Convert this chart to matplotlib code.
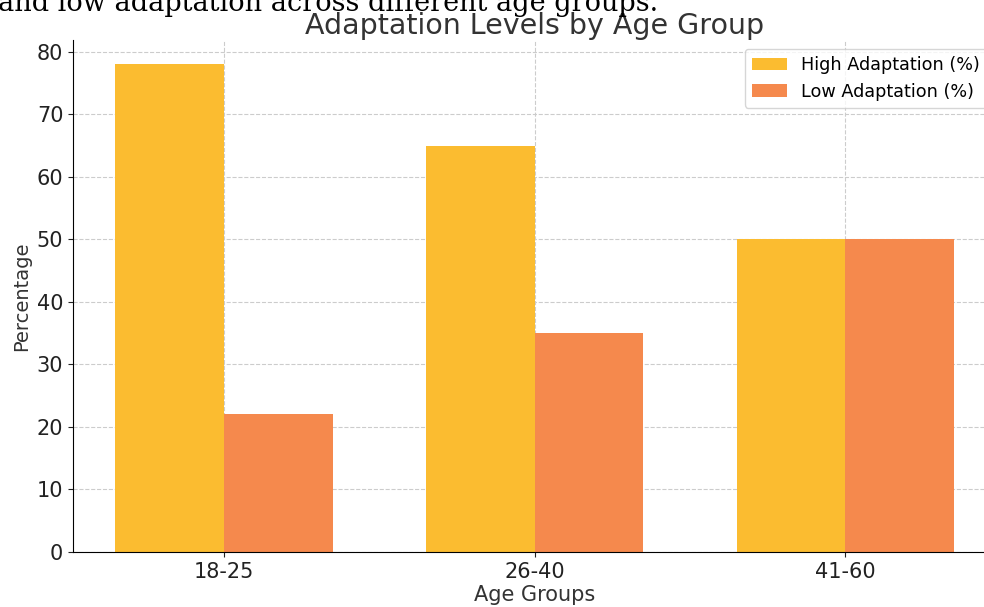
import matplotlib.pyplot as plt
import numpy as np

age_groups = ["18-25", "26-40", "41-60"]
high_adaptation = [78, 65, 50]
low_adaptation = [22, 35, 50]

bar_width = 0.35
x = np.arange(len(age_groups))

fig = plt.figure(figsize=(9.84, 6.07), dpi=100)
ax = fig.add_axes([0.0742, 0.0906, 0.938, 0.8435])

ax.bar(x - bar_width / 2, high_adaptation, bar_width, color="#FBBC30", label="High Adaptation (%)")
ax.bar(x + bar_width / 2, low_adaptation, bar_width, color="#F5894D", label="Low Adaptation (%)")

ax.set_xticks(x)
ax.set_xticklabels(age_groups)
ax.tick_params(labelsize=15, colors="#222222")
ax.set_xlabel("Age Groups", fontsize=15, color="#333333", labelpad=2)
ax.set_ylabel("Percentage", fontsize=14, color="#333333")
ax.set_title("Adaptation Levels by Age Group", fontsize=20.5, color="#333333", pad=3)
ax.grid(True, linestyle="--", color="#cccccc", linewidth=0.8)
ax.set_axisbelow(True)
for side in ["top", "right"]:
    ax.spines[side].set_visible(False)
ax.legend(loc="upper right", fontsize=12.7)

# caption sentence above the chart, clipped by the top edge
fig.text(-0.002, 0.982, "and low adaptation across different age groups.",
         family="DejaVu Serif", fontsize=19.5, va="baseline", ha="left")

fig.savefig("out.png", dpi=100)
